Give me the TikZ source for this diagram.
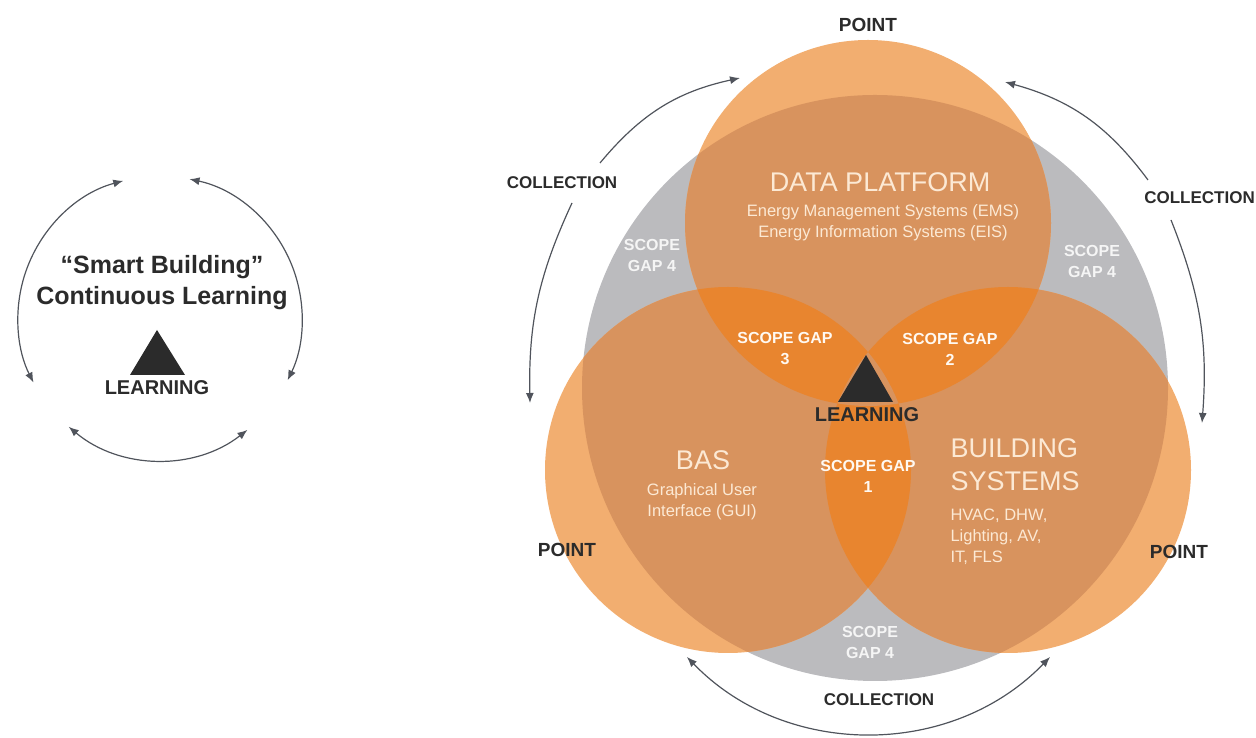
\documentclass[tikz,border=0pt]{standalone}
\usepackage{fontspec}
\setmainfont{Liberation Sans}
\usepackage{xcolor}
\usepackage{tikz}
\usetikzlibrary{arrows.meta}

\definecolor{lightor}{HTML}{F2AE70}
\definecolor{midor}{HTML}{D8935E}
\definecolor{hotor}{HTML}{E8852F}
\definecolor{gapgrey}{HTML}{BBBBBE}
\definecolor{cream}{HTML}{FCE9D4}
\definecolor{ink}{HTML}{2B2B2B}
\definecolor{wire}{HTML}{50545C}

\begin{document}
\begin{tikzpicture}[x=1pt,y=1pt,
    wirearc/.style={draw=wire,line width=1.2pt},
    tipend/.style={wirearc,-{Latex[length=10pt,width=8pt]}},
    tipboth/.style={wirearc,{Latex[length=10pt,width=8pt]}-{Latex[length=10pt,width=8pt]}},
    pointlbl/.style={text=ink,font=\bfseries\fontsize{19}{19}\selectfont},
    collbl/.style={text=ink,font=\bfseries\fontsize{17}{17}\selectfont},
    gaplbl/.style={text=white!95!orange,align=center,font=\bfseries\fontsize{16}{21}\selectfont},
    greygap/.style={text=white!92!gray,align=center,font=\bfseries\fontsize{16}{21}\selectfont},
    head/.style={text=cream,font=\fontsize{27}{33}\selectfont},
    sub/.style={text=cream,align=center,font=\fontsize{16.5}{21}\selectfont},
    learn/.style={text=ink,font=\bfseries\fontsize{20}{20}\selectfont}]
    \useasboundingbox (0,0) rectangle (1256,738);
    \def\rr{183}

    % small loop on the left
    \coordinate (lc) at (160,420);
    \path (lc) ++(105:142) coordinate (l1)
          (lc) ++(78:142) coordinate (r1)
          (lc) ++(230:142) coordinate (b1);
    \draw[tipboth] (l1) arc[start angle=105,end angle=207,radius=142];
    \draw[tipboth] (r1) arc[start angle=78,end angle=-26,radius=142];
    \draw[tipboth] (b1) arc[start angle=230,end angle=308,radius=142];
    \node[text=ink,font=\bfseries\fontsize{25}{31}\selectfont,align=center] (sb) at (162,455)
      {``Smart Building''\\Continuous Learning};
    \fill[ink] (157,408) -- (130,363) -- (185,363) -- cycle;
    \node[learn] (sl) at (157,350) {LEARNING};

    % venn
    \coordinate (g) at (875,350);
    \coordinate (dp) at (868,515);
    \coordinate (bas) at (728,268);
    \coordinate (bs) at (1008,268);
    \fill[gapgrey] (g) circle[radius=293];
    \foreach \c in {dp,bas,bs}
      \fill[lightor] (\c) circle[radius=\rr];
    \begin{scope}
      \clip (g) circle[radius=293];
      \foreach \c in {dp,bas,bs}
        \fill[midor] (\c) circle[radius=\rr];
    \end{scope}
    \begin{scope}
      \clip (dp) circle[radius=\rr];
      \fill[hotor] (bas) circle[radius=\rr];
      \fill[hotor] (bs) circle[radius=\rr];
    \end{scope}
    \begin{scope}
      \clip (bas) circle[radius=\rr];
      \fill[hotor] (bs) circle[radius=\rr];
    \end{scope}
    \begin{scope}
      \clip (dp) circle[radius=\rr];
      \clip (bas) circle[radius=\rr];
      \fill[midor] (bs) circle[radius=\rr];
    \end{scope}

    \node[head] (dph) at (880,556) {DATA PLATFORM};
    \node[sub] (dps) at (883,515) {Energy Management Systems (EMS)\\Energy Information Systems (EIS)};
    \node[head] (bash) at (703,278) {BAS};
    \node[sub] (bass) at (702,236) {Graphical User\\Interface (GUI)};
    \node[head,anchor=west,align=left] (bsh) at (947,273) {BUILDING\\SYSTEMS};
    \node[sub,anchor=north west,align=left] (bss) at (947,233) {HVAC, DHW,\\Lighting, AV,\\IT, FLS};

    \node[gaplbl] (g3) at (785,389) {SCOPE GAP\\3};
    \node[gaplbl] (g2) at (950,389) {SCOPE GAP\\2};
    \node[gaplbl] (g1) at (868,262) {SCOPE GAP\\1};
    \node[greygap] (g4a) at (652,482) {SCOPE\\GAP 4};
    \node[greygap] (g4b) at (1092,476) {SCOPE\\GAP 4};
    \node[greygap] (g4c) at (870,96) {SCOPE\\GAP 4};

    \fill[ink] (866,383) -- (838,336) -- (893,336) -- cycle;
    \node[learn] (vl) at (867,323) {LEARNING};

    \node[pointlbl] (pt) at (868,713) {POINT};
    \node[pointlbl] (pl) at (567,188) {POINT};
    \node[pointlbl] (pr) at (1179,186) {POINT};

    % collection arrows
    \node[collbl] (cl) at (562,555) {COLLECTION};
    \node[collbl,anchor=east,inner sep=1pt] (cr) at (1256,540) {COLLECTION};
    \node[collbl] (cb) at (879,38) {COLLECTION};
    \coordinate (cla) at (600,575);
    \coordinate (clb) at (572,535);
    \coordinate (tl) at (740,660);
    \coordinate (bl) at (530,335);
    \coordinate (cra) at (1148,558);
    \coordinate (crb) at (1171,518);
    \coordinate (tr) at (1005,656);
    \coordinate (br) at (1202,315);
    \coordinate (bb1) at (687,81);
    \coordinate (bb2) at (1050,81);
    \draw[tipend] (cla) to[bend left=19] (tl);
    \draw[tipend] (clb) to[bend right=13] (bl);
    \draw[tipend] (cra) to[bend right=19] (tr);
    \draw[tipend] (crb) to[bend left=13] (br);
    \draw[tipboth] (bb1) to[bend right=46] (bb2);
\end{tikzpicture}
\end{document}
